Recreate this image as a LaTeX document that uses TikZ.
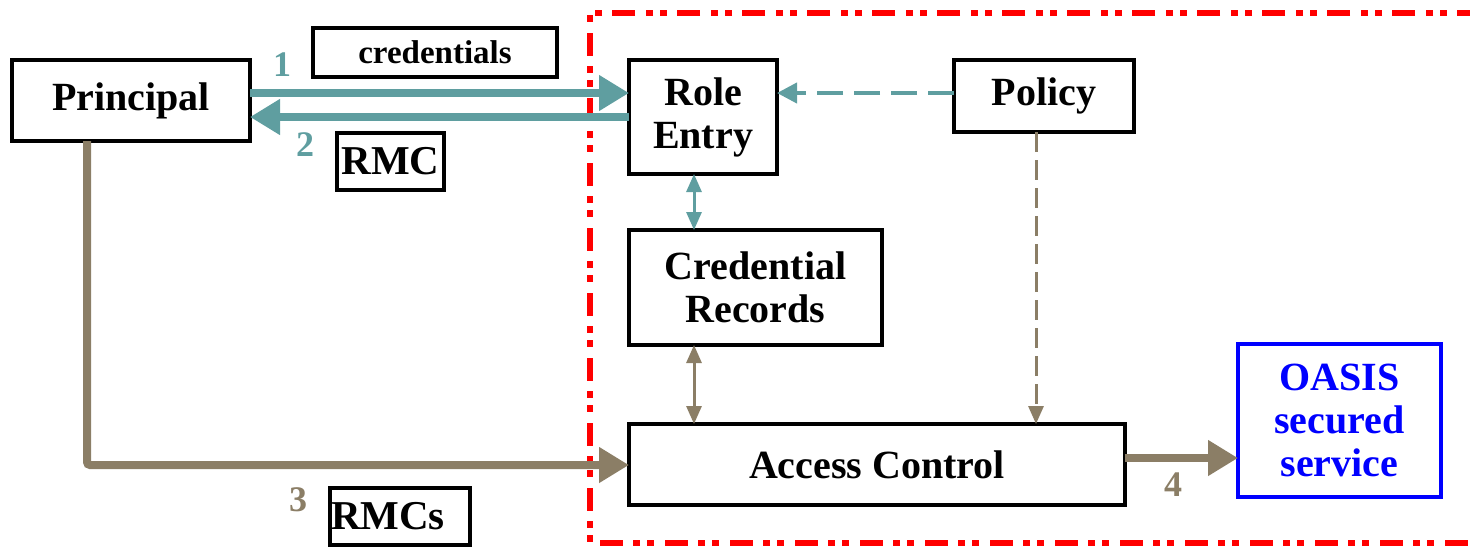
\documentclass[tikz,border=0pt]{standalone}
\usepackage{fontspec}
\setmainfont{Liberation Serif}
\usetikzlibrary{arrows.meta}
\definecolor{teal1}{RGB}{95,158,160}
\definecolor{brown1}{RGB}{139,126,102}
\definecolor{redline}{RGB}{255,0,0}
\definecolor{blueline}{RGB}{0,0,255}
\begin{document}
\begin{tikzpicture}[x=1pt,y=-1pt,
  box/.style={draw=black,line width=3.5pt,inner sep=0pt,outer sep=0pt,align=center,
    font=\fontsize{40}{43}\selectfont\bfseries},
  tag/.style={draw=black,line width=3.5pt,inner sep=0pt,outer sep=0pt,align=center},
  num/.style={inner sep=0pt,font=\fontsize{36}{36}\selectfont\bfseries},
  bigteal/.style={draw=teal1,line width=8pt,-{Triangle[length=30pt,width=34pt]}},
  bigbrown/.style={draw=brown1,line width=8pt,-{Triangle[length=30pt,width=34pt]}},
  thinlink/.style={line width=3pt,{Triangle[length=18pt,width=15pt]}-{Triangle[length=18pt,width=15pt]}},
]
\useasboundingbox (0,0) rectangle (1470,547);

% secured domain boundary (dash-dot-dot)
\draw[redline,line width=6pt,dash pattern=on 23pt off 10pt on 7pt off 7pt on 7pt off 11pt]
  (1480,13) -- (590,13) -- (590,543) -- (1480,543);

% components
\node[box,minimum width=238pt,minimum height=81pt] (principal) at (131,100.5) {Principal};
\node[box,minimum width=148pt,minimum height=114pt] (role) at (703,117) {Role\\Entry};
\node[box,minimum width=180pt,minimum height=72pt] (policy) at (1044,96) {Policy};
\node[box,minimum width=253pt,minimum height=115pt] (cred) at (755.5,287.5) {Credential\\Records};
\node[box,minimum width=496pt,minimum height=81pt] (access) at (877,464.5) {Access Control};
\node[box,draw=blueline,text=blueline,minimum width=203pt,minimum height=153pt] (oasis) at (1339.5,420.5) {OASIS\\secured\\service};

% message labels
\node[tag,minimum width=244pt,minimum height=49pt,font=\fontsize{33}{34}\selectfont\bfseries] (credl) at (435,52.5) {credentials};
\node[tag,minimum width=107pt,minimum height=57pt,font=\fontsize{41}{41}\selectfont\bfseries] (rmc) at (390.5,161.5) {RMC};
\node[tag,minimum width=140pt,minimum height=57pt,font=\fontsize{41}{41}\selectfont\bfseries,text width=140pt,align=left] (rmcs) at (400,516.5) {\hspace*{1pt}RMCs};

% step numbers
\node[num,text=teal1] (n1) at (282,65) {1};
\node[num,text=teal1] (n2) at (305,145) {2};
\node[num,text=brown1] (n3) at (298,500) {3};
\node[num,text=brown1] (n4) at (1173,485) {4};

% connectors
\coordinate (p1) at (principal.east |- 0,93);
\coordinate (r1) at (role.west |- 0,93);
\coordinate (p2) at (principal.east |- 0,117);
\coordinate (r2) at (role.west |- 0,117);
\draw[bigteal] (p1) -- (r1);
\draw[bigteal] (r2) -- (p2);

\coordinate (pol) at (policy.west |- 0,93);
\coordinate (rol) at (role.east |- 0,93);
\draw[teal1,line width=4pt,dash pattern=on 26pt off 11pt,-{Triangle[length=20pt,width=20pt]}] (pol) -- (rol);

\coordinate (rs) at (694,0);
\draw[teal1,thinlink] (role.south -| rs) -- (cred.north -| rs);
\draw[brown1,thinlink] (cred.south -| rs) -- (access.north -| rs);

\coordinate (pv) at (1036,0);
\draw[brown1,line width=3pt,dash pattern=on 20pt off 8pt,-{Triangle[length=18pt,width=15pt]}] (policy.south -| pv) -- (access.north -| pv);

\coordinate (pd) at (87,0);
\coordinate (corner) at (87,465);
\draw[bigbrown,rounded corners=3pt] (principal.south -| pd) -- (corner) -- (access.west |- corner);

\coordinate (a4) at (access.east |- 0,458);
\coordinate (o4) at (oasis.west |- 0,458);
\draw[bigbrown] (a4) -- (o4);
\end{tikzpicture}
\end{document}
